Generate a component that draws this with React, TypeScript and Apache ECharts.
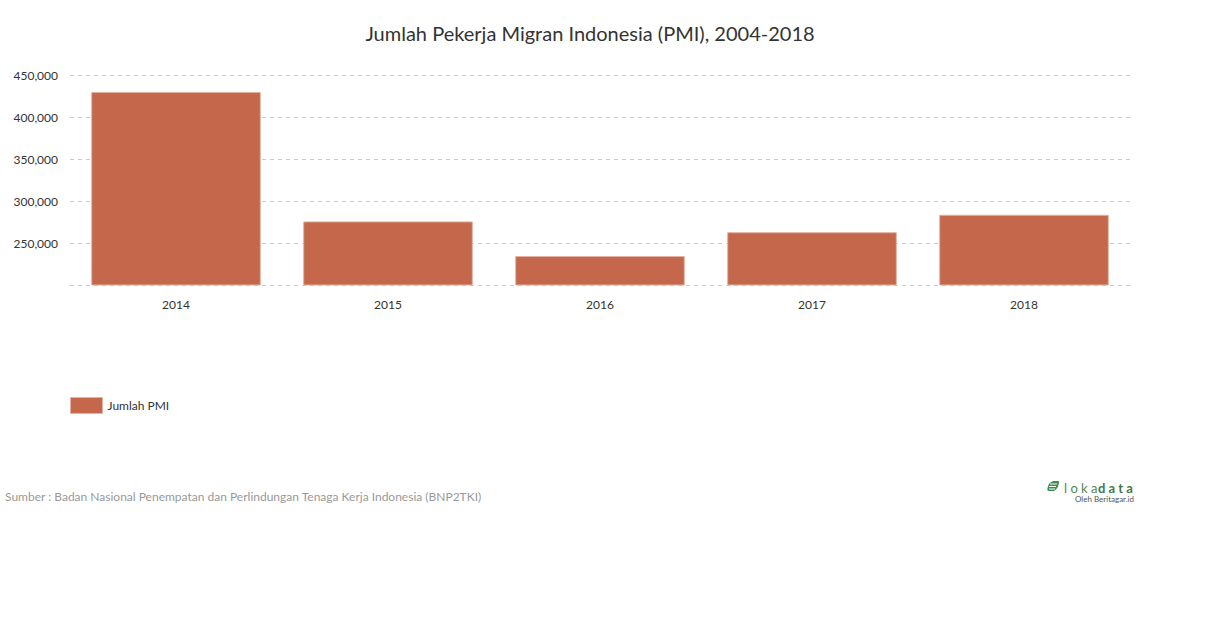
import React, { useEffect, useRef } from "react";
import * as echarts from "echarts";

const title = "Jumlah Pekerja Migran Indonesia (PMI), 2004-2018";
const categories = ["2014", "2015", "2016", "2017", "2018"];
const seriesName = "Jumlah PMI";
const values = [429872, 275736, 234451, 262899, 283640];
const yMin = 200000;
const yMax = 450000;
const yInterval = 50000;
const sourceText = "Sumber : Badan Nasional Penempatan dan Perlindungan Tenaga Kerja Indonesia (BNP2TKI)";

const FONT = "Lato, 'Noto Sans', sans-serif";

echarts.graphic.registerShape(
  "leaf",
  echarts.graphic.extendPath(
    "M2 10 C0.2 10 0 8.5 0.8 6 C1.8 2.5 4 0 8 0 L12 0 C12 4.5 10.5 8 7 10 Z",
    {}
  )
);

function fmt(v: number) {
  return v.toString().replace(/\B(?=(\d{3})+(?!\d))/g, ",");
}

export default function App() {
  const ref = useRef<HTMLDivElement>(null);
  useEffect(() => {
    if (!ref.current) return;
    const chart = echarts.init(ref.current, null, { renderer: "svg" });
    chart.setOption({
      animation: false,
      backgroundColor: "#ffffff",
      title: {
        text: title,
        left: 585,
        textAlign: "center",
        top: 18,
        textStyle: { fontFamily: FONT, fontSize: 20, fontWeight: "normal", color: "#333333" },
      },
      legend: {
        left: 65,
        top: 392,
        icon: "rect",
        itemWidth: 32,
        itemHeight: 16,
        itemGap: 10,
        itemStyle: { borderColor: "#e3b3a3", borderWidth: 1 },
        textStyle: { fontFamily: FONT, fontSize: 12, color: "#333333", padding: [0, 0, 0, 0] },
        data: [seriesName],
      },
      grid: { left: 70, right: 80, top: 75, bottom: 343, containLabel: false },
      xAxis: {
        type: "category",
        data: categories,
        axisLine: { show: false },
        axisTick: { show: false },
        axisLabel: { fontFamily: FONT, fontSize: 12, color: "#333333", margin: 13 },
      },
      yAxis: {
        type: "value",
        min: yMin,
        max: yMax,
        interval: yInterval,
        axisLine: { show: false },
        axisTick: { show: false },
        axisLabel: {
          fontFamily: FONT,
          fontSize: 12,
          color: "#333333",
          margin: 12,
          formatter: (v: number) => (v === yMin ? "" : fmt(v)),
        },
        splitLine: { lineStyle: { color: "#cccccc", type: [4, 4], width: 1 } },
      },
      series: [
        {
          name: seriesName,
          type: "bar",
          data: values,
          barCategoryGap: "20%",
          itemStyle: { color: "#C4674A", borderColor: "#e3b3a3", borderWidth: 1 },
        },
      ],
      graphic: [
        {
          type: "text",
          left: 5,
          top: 490,
          style: { text: sourceText, fontFamily: FONT, fontSize: 12, fill: "#999999" },
        },
        {
          type: "leaf",
          x: 1047,
          y: 481,
          shape: {},
          style: { fill: "#3f8a4f" },
        },
        { type: "line", shape: { x1: 1050, y1: 484, x2: 1057, y2: 484 }, style: { stroke: "#ffffff", lineWidth: 1 } },
        { type: "line", shape: { x1: 1049, y1: 486.5, x2: 1056, y2: 486.5 }, style: { stroke: "#ffffff", lineWidth: 1 } },
        { type: "line", shape: { x1: 1049, y1: 489, x2: 1055, y2: 489 }, style: { stroke: "#ffffff", lineWidth: 1 } },
        {
          type: "text",
          x: 1064,
          y: 481,
          style: { text: "l o k a", fontFamily: FONT, fontSize: 13, fill: "#4d8a57", fontWeight: "normal" },
        },
        {
          type: "text",
          x: 1098,
          y: 481,
          style: { text: "d a t a", fontFamily: FONT, fontSize: 13, fill: "#3f7a49", fontWeight: "bold" },
        },
        {
          type: "text",
          x: 1134,
          y: 495,
          style: {
            text: "Oleh Beritagar.id",
            fontFamily: FONT,
            fontSize: 8,
            fill: "#555555",
            align: "right",
          },
        },
      ],
    });
    return () => chart.dispose();
  }, []);
  return (
    <div
      ref={ref}
      style={{ position: "fixed", left: 0, top: 0, width: 1210, height: 628 }}
    />
  );
}
